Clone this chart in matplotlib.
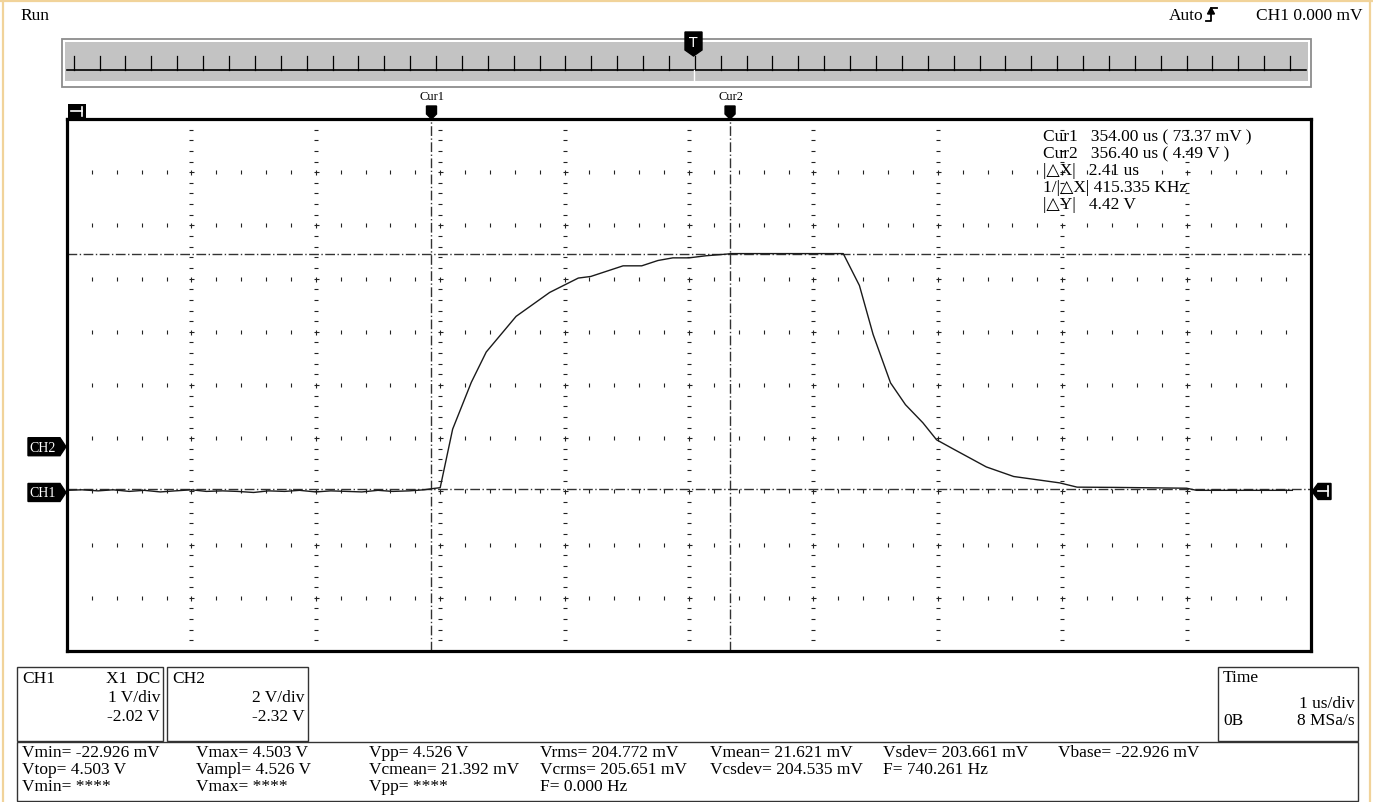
import matplotlib
matplotlib.use('Agg')
import matplotlib.pyplot as plt
from matplotlib.patches import Rectangle, Polygon

W, H = 1373, 803
plt.rcParams['font.family'] = ['Liberation Serif', 'DejaVu Serif']

# ---------------- data ----------------
t_us = [351.07, 351.19, 351.32, 351.44, 351.57, 351.69, 351.82, 351.94,
        352.07, 352.19, 352.32, 352.44, 352.57, 352.69, 352.82, 352.94,
        353.07, 353.19, 353.32, 353.44, 353.57, 353.69, 353.82, 353.94,
        354.00, 354.07, 354.17, 354.32, 354.44, 354.68, 354.95, 355.18,
        355.28, 355.54, 355.69, 355.82, 355.94, 356.07, 356.21, 356.37,
        356.41, 357.31, 357.44, 357.55, 357.69, 357.81, 357.95, 358.06,
        358.20, 358.46, 358.68, 359.05, 359.19, 359.50, 360.07, 360.15,
        360.92]
ch1_v = [0.04, 0.05, 0.03, 0.05, 0.02, 0.04, 0.01, 0.03,
         0.05, 0.02, 0.03, 0.02, 0.00, 0.03, 0.02, 0.04,
         0.01, 0.03, 0.02, 0.01, 0.04, 0.02, 0.03, 0.05,
         0.07, 0.09, 1.19, 2.07, 2.64, 3.31, 3.76, 4.03,
         4.06, 4.26, 4.26, 4.36, 4.41, 4.41, 4.45, 4.48,
         4.49, 4.49, 3.89, 2.97, 2.06, 1.65, 1.31, 0.99,
         0.81, 0.48, 0.30, 0.18, 0.10, 0.095, 0.08, 0.04,
         0.04]

cursor_names = ['Cur1', 'Cur2']
cursor_t = [354.00, 356.40]
cursor_v = [0.07337, 4.49]

t_left = 351.07
time_per_div = 1.0
ch1_vdiv, ch1_offset = 1.0, -2.02
ch2_vdiv, ch2_offset = 2.0, -2.32
n_div = 10

cursor_info = ['Cur1   354.00 us ( 73.37 mV )',
               'Cur2   356.40 us ( 4.49 V )',
               '|\u25B3X|   2.41 us',
               '1/|\u25B3X| 415.335 KHz',
               '|\u25B3Y|   4.42 V']

meas_rows = [
    ['Vmin= -22.926 mV', 'Vmax= 4.503 V', 'Vpp= 4.526 V', 'Vrms= 204.772 mV',
     'Vmean= 21.621 mV', 'Vsdev= 203.661 mV', 'Vbase= -22.926 mV'],
    ['Vtop= 4.503 V', 'Vampl= 4.526 V', 'Vcmean= 21.392 mV', 'Vcrms= 205.651 mV',
     'Vcsdev= 204.535 mV', 'F= 740.261 Hz'],
    ['Vmin= ****', 'Vmax= ****', 'Vpp= ****', 'F= 0.000 Hz'],
]
meas_cols_x = [22, 196, 369, 540, 710, 883, 1058]
meas_rows_y = [753, 770, 787]

FS = 12.5

# ---------------- figure ----------------
fig = plt.figure(figsize=(W / 100, H / 100), dpi=100)
fig.patch.set_facecolor('white')

L, R, T, B = 67, 1311, 120, 652
ax = fig.add_axes([L / W, 1 - B / H, (R - L) / W, (B - T) / H])
ax.set_xlim(t_left, t_left + n_div * time_per_div)
center_v = -ch1_offset
ax.set_ylim(center_v - 5 * ch1_vdiv, center_v + 5 * ch1_vdiv)
ax.set_xticks([]); ax.set_yticks([])
for s in ax.spines.values():
    s.set_linewidth(2.3)
    s.set_color('black')

# screen grid (axes fraction)
gc = '#222222'
for i in range(1, n_div):
    ks = [k for k in range(1, 50) if k % 5]
    ax.plot([i / n_div] * len(ks), [k / 50 for k in ks], ls='none', marker='_',
            ms=2.2, mew=0.8, color=gc, transform=ax.transAxes)
    ax.plot([i / n_div] * (n_div - 1), [j / n_div for j in range(1, n_div)],
            ls='none', marker='+', ms=3.6, mew=0.8, color=gc,
            transform=ax.transAxes)
for j in range(1, n_div):
    px = [m / 50 for m in range(1, 50) if m % 5]
    ax.plot(px, [j / n_div] * len(px), ls='none', marker='|', ms=2.2, mew=0.8,
            color=gc, transform=ax.transAxes)

# cursors
dash = (0, (7, 1.8, 1, 1.8))
for ct in cursor_t:
    ax.axvline(ct, color='#333333', lw=1.0, ls=dash)
for cv in cursor_v:
    ax.axhline(cv, color='#333333', lw=1.0, ls=dash)

# trace
ax.plot(t_us, ch1_v, color='#1a1a1a', lw=1.0)

# ---------------- overlay in pixel coords ----------------
ov = fig.add_axes([0, 0, 1, 1], zorder=5)
ov.set_xlim(0, W); ov.set_ylim(H, 0)
ov.axis('off'); ov.patch.set_alpha(0)

def to_px(axes, x, y, trans='data'):
    tr = axes.transData if trans == 'data' else axes.transAxes
    dx, dy = tr.transform((x, y))
    return dx, H - dy

for k, line in enumerate(cursor_info):
    ov.text(1043, 137 + 17 * k, line, fontsize=FS, va='center', ha='left')

# outer tan border
ov.plot([3, 3], [0, H], color='#f1d39a', lw=1.6)
ov.plot([0, W], [2, 2], color='#f1d39a', lw=1.6)
ov.plot([1370, 1370], [0, H], color='#f1d39a', lw=1.6)

# top texts
ov.text(20, 16, 'Run', fontsize=FS, va='center', ha='left')
ov.text(1203, 16, 'Auto', fontsize=FS, va='center', ha='right')
ov.plot([1206, 1211, 1211, 1217], [22, 22, 9, 9], color='black', lw=1.3)
ov.add_patch(Polygon([(1207.5, 15), (1214.5, 15), (1211, 8.5)], closed=True,
                     color='black'))
ov.text(1362, 16, 'CH1 0.000 mV', fontsize=FS, va='center', ha='right')

# overview bar
ov.add_patch(Rectangle((62, 40), 1249, 48, facecolor='white',
                       edgecolor='#8c8c8c', lw=1.3))
ov.add_patch(Rectangle((65, 43), 1243, 39, facecolor='#c3c3c3',
                       edgecolor='none'))
ov.plot([67, 1306], [71, 71], color='black', lw=1.2)
tick0, tick_step, n_ticks = 73.7, 25.88, 48
for k in range(n_ticks):
    x = tick0 + k * tick_step
    ov.plot([x, x], [57, 71], color='black', lw=0.9)
trig_x = to_px(ax, t_left + n_div * time_per_div / 2, 0)[0] + 5
ov.plot([trig_x, trig_x], [71, 85], color='white', lw=1.0)
ov.add_patch(Polygon([(trig_x - 9, 33), (trig_x + 8, 33), (trig_x + 8, 51),
                      (trig_x - 0.5, 57), (trig_x - 9, 51)], closed=True,
                     color='black'))
ov.text(trig_x - 0.5, 43, 'T', color='white', fontsize=10, ha='center',
        va='center', family='DejaVu Sans')

# top-left position marker
ov.add_patch(Rectangle((68, 105), 18, 14, facecolor='black', edgecolor='none'))
ov.plot([71, 82], [112, 112], color='white', lw=1.2)
ov.plot([82, 82], [107.5, 116.5], color='white', lw=1.2)

# cursor markers above the frame
for name, ct in zip(cursor_names, cursor_t):
    cx = to_px(ax, ct, 0)[0]
    ov.text(cx + 1, 97, name, fontsize=9, ha='center', va='center')
    ov.add_patch(Polygon([(cx - 5, 107), (cx + 5, 107), (cx + 5, 115),
                          (cx, 120), (cx - 5, 115)], closed=True, color='black'))

# channel tags on the left
ch1_y = to_px(ax, 0, 0.5 + (ch1_offset / ch1_vdiv) / n_div, 'axes')[1]
ch2_y = to_px(ax, 0, 0.5 + (ch2_offset / ch2_vdiv) / n_div, 'axes')[1]
for label, yc in [('CH1', ch1_y), ('CH2', ch2_y)]:
    ov.add_patch(Polygon([(28, yc - 9), (60, yc - 9), (66, yc), (60, yc + 9),
                          (28, yc + 9)], closed=True, color='black'))
    ov.text(43, yc + 0.5, label, color='white', fontsize=10, ha='center',
            va='center')

# ground marker on the right
gy = ch1_y - 1
ov.add_patch(Polygon([(1312, gy), (1318, gy - 8), (1331, gy - 8), (1331, gy + 8),
                      (1318, gy + 8)], closed=True, color='black'))
ov.plot([1318, 1328], [gy, gy], color='white', lw=1.2)
ov.plot([1328, 1328], [gy - 5, gy + 5], color='white', lw=1.2)

# channel boxes
def box(x0, y0, x1, y1):
    ov.add_patch(Rectangle((x0, y0), x1 - x0, y1 - y0, facecolor='white',
                           edgecolor='#333333', lw=1.0))

box(17, 668, 163, 742)
ov.text(22, 679, 'CH1', fontsize=FS, va='center', ha='left')
ov.text(160, 679, 'X1  DC', fontsize=FS, va='center', ha='right')
ov.text(160, 698, '1 V/div', fontsize=FS, va='center', ha='right')
ov.text(160, 717, '-2.02 V', fontsize=FS, va='center', ha='right')

box(167, 668, 308, 742)
ov.text(172, 679, 'CH2', fontsize=FS, va='center', ha='left')
ov.text(305, 698, '2 V/div', fontsize=FS, va='center', ha='right')
ov.text(305, 717, '-2.32 V', fontsize=FS, va='center', ha='right')

box(1218, 668, 1358, 742)
ov.text(1223, 678, 'Time', fontsize=FS, va='center', ha='left')
ov.text(1355, 704, '1 us/div', fontsize=FS, va='center', ha='right')
ov.text(1223, 721, '0B', fontsize=FS, va='center', ha='left')
ov.text(1355, 721, '8 MSa/s', fontsize=FS, va='center', ha='right')

# measurement box
box(17, 743, 1358, 802)
for row, y in zip(meas_rows, meas_rows_y):
    for txt, x in zip(row, meas_cols_x):
        ov.text(x, y, txt, fontsize=FS, va='center', ha='left')

fig.savefig('out.png', dpi=100, facecolor='white')
